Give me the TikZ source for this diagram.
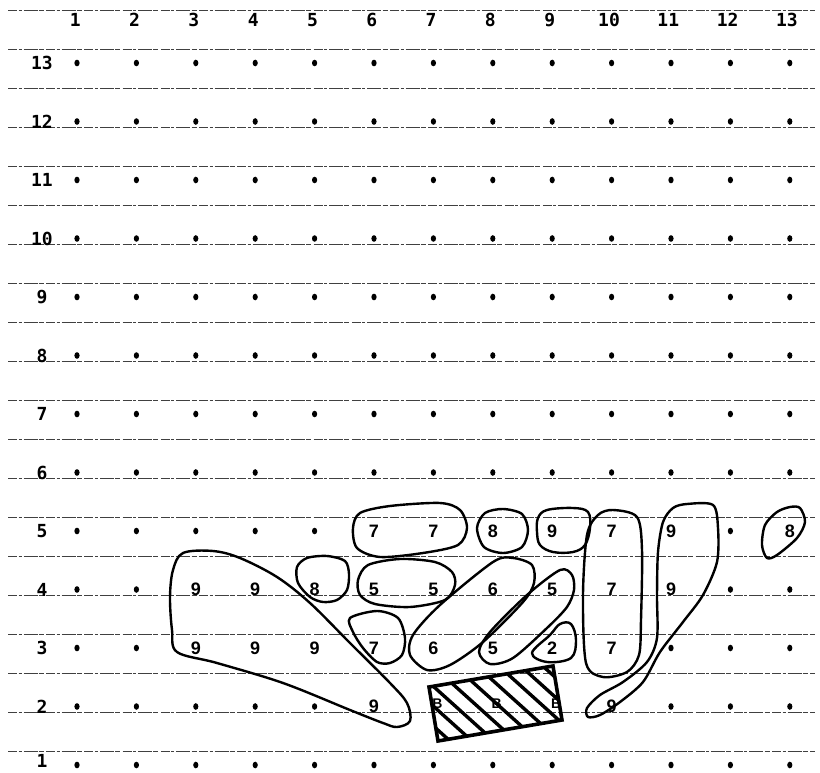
\documentclass[tikz,border=0pt]{standalone}
\usepackage{fontspec}
\setmainfont{Liberation Sans}
\newfontfamily\typefont{DejaVu Sans Mono}
\usetikzlibrary{calc}
\tikzset{
  ruling/.style={draw=black!75,line width=0.8pt,dash pattern=on 9pt off 1.5pt on 3pt off 2pt on 14pt off 1.2pt on 5pt off 2.5pt},
  lbl/.style={font=\typefont\bfseries\fontsize{18}{18}\selectfont,inner sep=0pt},
  hand/.style={font=\bfseries\fontsize{18}{18}\selectfont,inner sep=0pt},
  tiny/.style={font=\bfseries\fontsize{14}{14}\selectfont,inner sep=0pt},
  blob/.style={draw=black,line width=2.4pt,line join=round},
  framebox/.style={draw=black,line width=3.6pt,line join=miter},
  hatch/.style={draw=black,line width=3.4pt},
}
\begin{document}
\begin{tikzpicture}[x=1pt,y=-1pt]
  \useasboundingbox[fill=white] (0,0) rectangle (820,773);
  \foreach \k in {0,...,19}
    \draw[ruling] (8,10+39*\k) -- (815,10+39*\k);
  \foreach \c in {1,...,13}
    \node[lbl] (col\c) at (16+59.3*\c,20) {\c};
  \foreach \r in {2,...,13}
    \node[lbl] (row\r) at (42,823.5-58.5*\r) {\r};
  \node[lbl] (row1) at (42,761) {1};
  \foreach \r in {6,...,13}
    \foreach \c in {1,...,13}
      \fill (17.6+59.4*\c,823.5-58.5*\r) ellipse (2.6 and 3.3);
  \foreach \c/\r in {1/5,2/5,3/5,4/5,5/5,12/5,1/4,2/4,12/4,13/4,1/3,2/3,11/3,12/3,13/3,
                    1/2,2/2,3/2,4/2,5/2,11/2,12/2,13/2,1/1,2/1,3/1,4/1,5/1,6/1,7/1,8/1,9/1,10/1,11/1,12/1,13/1}
    \fill (17.6+59.4*\c,823.5-58.5*\r) ellipse (2.6 and 3.3);
  \foreach \c/\r/\v in {3/4/9,4/4/9,3/3/9,4/3/9,5/3/9,6/2/9,5/4/8,6/5/7,7/5/7,6/4/5,7/4/5,6/3/7,7/3/6,
                        8/4/6,8/5/8,9/5/9,9/4/5,8/3/5,9/3/2,10/5/7,10/4/7,10/3/7,11/5/9,11/4/9,10/2/9,13/5/8}
    \node[hand] (v\c-\r) at (17.6+59.4*\c,823.5-58.5*\r) {\v};
  \foreach \c in {7,8,9}
    \node[tiny] (b\c) at (21.6+59.4*\c,704) {B};

  \draw[blob] plot[smooth cycle,tension=0.55] coordinates {(183,553) (213,551) (240,558) (277,577) (310,603) (350,643) (390,683) (407,703) (410,721) (397,727) (383,723) (350,710) (283,683) (217,663) (177,652) (172,630) (170,597) (173,570)};
  \draw[blob] plot[smooth cycle] coordinates {(297,567) (307,558) (327,556) (345,561) (349,574) (347,590) (337,600) (323,602) (310,597) (298,583)};
  \draw[blob] plot[smooth cycle] coordinates {(360,513) (390,506) (440,503) (460,510) (467,528) (458,545) (423,553) (380,557) (357,548) (353,528)};
  \draw[blob] plot[smooth cycle] coordinates {(477,528) (485,513) (503,509) (522,514) (528,530) (522,547) (503,553) (484,547)};
  \draw[blob] plot[smooth cycle,tension=0.6] coordinates {(538,518) (547,510) (573,508) (588,512) (590,528) (585,545) (573,552) (553,552) (540,545) (537,532)};
  \draw[blob] plot[smooth cycle] coordinates {(358,580) (368,565) (400,559) (435,562) (452,572) (455,585) (445,600) (410,607) (375,604) (360,595)};
  \draw[blob] plot[smooth cycle] coordinates {(350,618) (377,611) (398,618) (405,638) (402,655) (390,663) (377,662) (363,648) (353,632)};
  \draw[blob] plot[smooth cycle] coordinates {(513,558) (532,565) (534,583) (523,602) (483,642) (450,665) (427,670) (410,655) (413,635) (440,605) (493,562)};
  \draw[blob] plot[smooth cycle] coordinates {(560,570) (572,575) (574,590) (567,607) (547,628) (513,658) (490,664) (479,652) (490,632) (527,595)};
  \draw[blob] plot[smooth cycle,tension=0.6] coordinates {(560,624) (571,624) (576,640) (571,658) (547,662) (532,653) (550,635)};
  \draw[blob] plot[smooth cycle] coordinates {(613,510) (637,517) (642,550) (641,620) (639,655) (627,672) (603,677) (586,663) (583,595) (587,535) (598,515)};
  \draw[blob] plot[smooth cycle] coordinates {(687,504) (713,505) (718,528) (717,562) (703,595) (683,622) (660,652) (643,682) (620,702) (600,715) (588,717) (587,708) (600,695) (623,682) (647,662) (657,638) (657,595) (658,552) (663,522) (673,508)};
  \draw[blob] plot[smooth cycle] coordinates {(790,507) (800,508) (805,522) (797,538) (777,555) (767,558) (762,545) (765,525) (777,512)};

  \coordinate (hb1) at (429,687);
  \coordinate (hb2) at (553,666);
  \coordinate (hb3) at (562,720);
  \coordinate (hb4) at (438,741);
  \begin{scope}
    \clip (hb1) -- (hb2) -- (hb3) -- (hb4) -- cycle;
    \foreach \k in {-6,...,8}
      \draw[hatch] (393+22*\k,650) -- (504+22*\k,750);
  \end{scope}
  \draw[framebox] (hb1) -- (hb2) -- (hb3) -- (hb4) -- cycle;
\end{tikzpicture}
\end{document}
